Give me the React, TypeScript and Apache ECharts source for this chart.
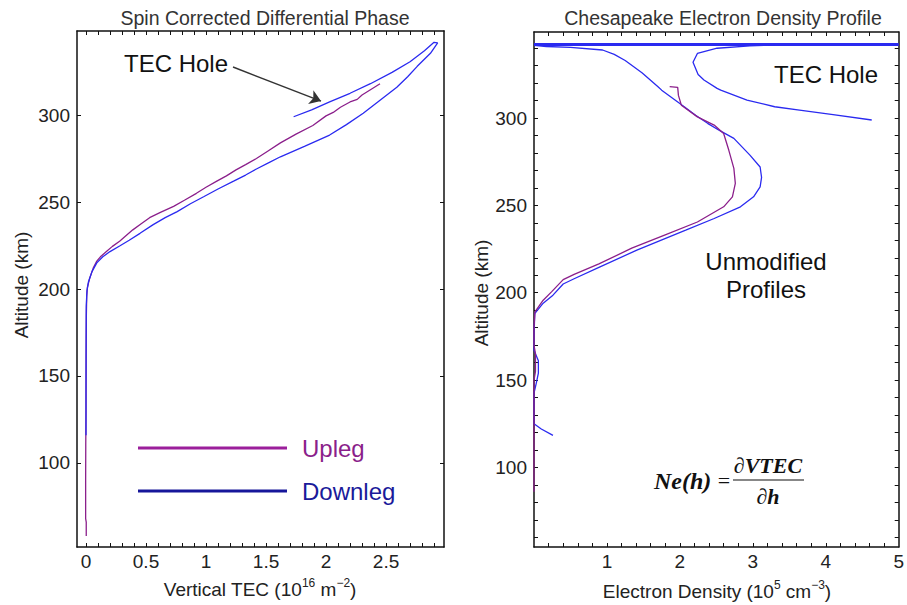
import { useEffect, useRef } from 'react';
import * as echarts from 'echarts';

// ---- axis ticks and labels ----
const tecLabels = [0, 0.5, 1, 1.5, 2, 2.5];
const tecTicks = [0, 0.1, 0.2, 0.3, 0.4, 0.5, 0.6, 0.7, 0.8, 0.9, 1, 1.1, 1.2, 1.3, 1.4, 1.5, 1.6, 1.7, 1.8, 1.9, 2, 2.1, 2.2, 2.3, 2.4, 2.5, 2.6, 2.7, 2.8, 2.9];
const altLabels = [100, 150, 200, 250, 300];
const altTicksCoarse = [100, 150, 200, 250, 300];
const altTicksFine = [60, 70, 80, 90, 100, 110, 120, 130, 140, 150, 160, 170, 180, 190, 200, 210, 220, 230, 240, 250, 260, 270, 280, 290, 300, 310, 320, 330, 340];
const densityLabels = [1, 2, 3, 4, 5];
const densityTicks = [0.2, 0.4, 0.6, 0.8, 1, 1.2, 1.4, 1.6, 1.8, 2, 2.2, 2.4, 2.6, 2.8, 3, 3.2, 3.4, 3.6, 3.8, 4, 4.2, 4.4, 4.6, 4.8];

// ---- vertical TEC vs altitude: [TEC (1e16 m^-2), altitude km] ----
const uplegTec = [
  [0.002, 58], [0.002, 66], [-0.003, 68], [-0.003, 90], [-0.002, 110], [0, 130], [0.001, 160],
  [0.003, 185], [0.006, 196], [0.012, 201], [0.03, 206], [0.06, 212], [0.09, 216], [0.12, 218.5],
  [0.17, 221.5], [0.22, 224.5], [0.28, 227.5], [0.33, 230.5], [0.39, 234], [0.46, 237.5],
  [0.53, 241], [0.62, 244], [0.73, 247.5], [0.82, 251], [0.92, 255], [1.0, 258.5], [1.09, 262],
  [1.17, 265], [1.25, 268.5], [1.33, 271.5], [1.42, 275], [1.52, 279.5], [1.62, 284], [1.75, 289],
  [1.89, 294], [2.0, 299.5], [2.06, 301.5], [2.12, 304.5], [2.2, 307.5], [2.26, 309], [2.3, 311.5],
  [2.38, 315], [2.45, 318],
];
const downlegTec = [
  [0.0, 116], [0.0, 140], [0.001, 170], [0.002, 190], [0.008, 199], [0.02, 204], [0.05, 210],
  [0.09, 215], [0.14, 218.5], [0.2, 221.5], [0.28, 224.7], [0.36, 228], [0.45, 232], [0.56, 237],
  [0.66, 241], [0.76, 244.5], [0.87, 249], [0.98, 253], [1.1, 257.5], [1.23, 262], [1.33, 265.5],
  [1.42, 269], [1.52, 272.5], [1.62, 276], [1.82, 282], [2.03, 288.5], [2.17, 294.5], [2.31, 301],
  [2.45, 308.5], [2.59, 316], [2.68, 322], [2.76, 328], [2.87, 335.5], [2.93, 341.5], [2.9, 341.8],
  [2.82, 337], [2.7, 330.6], [2.55, 324.5], [2.37, 318], [2.2, 312.5], [2.03, 307.6], [1.88, 303],
  [1.73, 299],
];

// ---- electron density vs altitude: [Ne (1e5 cm^-3), altitude km] ----
const uplegDensity = [
  [1.86, 318], [1.97, 317.6], [1.98, 313], [2.02, 307.4], [2.24, 300.7], [2.47, 296], [2.6, 291.2],
  [2.67, 281.7], [2.74, 271.2], [2.76, 262.6], [2.72, 254.9], [2.6, 249.2], [2.24, 240.5],
  [1.79, 233], [1.34, 225.5], [0.89, 216.5], [0.55, 210.5], [0.4, 207.5], [0.24, 200.5], [0.126, 195.7],
  [0.013, 189], [0, 180], [0, 170], [0.02, 165], [0.02, 155], [0, 150], [0, 100], [0, 86],
];
const downlegDensity = [
  [0, 341.7], [0.17, 341], [0.5, 340.5], [0.94, 339], [1.1, 336.5], [1.25, 333], [1.48, 326],
  [1.7, 318], [1.75, 316], [2.06, 306.5], [2.22, 301.5], [2.38, 297], [2.56, 292.5], [2.74, 288.4],
  [2.96, 278.8], [3.1, 272], [3.12, 266], [3.1, 260.6], [3.01, 254.9], [2.83, 249.2], [2.47, 242.5],
  [2.08, 235.8], [1.41, 224.4], [0.89, 214.5], [0.55, 208], [0.4, 205], [0.26, 198.6], [0.126, 194], [0.01, 188],
  [0, 175], [0, 167], [0.06, 161], [0.06, 154], [0.03, 148], [0, 142.5], [0, 125], [0.1, 122],
  [0.26, 118.3],
];
const tecHoleDensity = [
  [3.3, 341.9], [2.96, 341.3], [2.51, 340], [2.24, 337], [2.18, 332], [2.25, 325], [2.33, 321.8],
  [2.51, 317], [2.56, 316], [2.92, 310.3], [3.3, 306.5], [3.64, 304.6], [4.1, 302], [4.63, 298.9],
];
const densityCap = [[0, 342.2], [5, 342.2]];

// TEC hole pointer: from tail to head, in [TEC, altitude]
const holeArrow = [[1.225, 327.6], [1.958, 308]];

const PURPLE = '#8b1f8b';
const BLUE = '#2a2af0';
const NAVY = '#1a1a9a';
const SANS = '"Liberation Sans", Arial, sans-serif';
const SERIF = '"Liberation Serif", "Times New Roman", serif';

function frameAxis(
  position: 'bottom' | 'top' | 'left' | 'right',
  gridIndex: number,
  min: number,
  max: number,
  ticks: number[],
  labels: number[] | null,
) {
  return {
    type: 'value',
    gridIndex,
    position,
    min,
    max,
    axisLine: { show: true, onZero: false, lineStyle: { color: '#111', width: 1.5 } },
    axisTick: { show: true, inside: true, length: 4, customValues: ticks, lineStyle: { color: '#111', width: 1 } },
    axisLabel: labels
      ? { show: true, customValues: labels, color: '#222', fontSize: 19, fontFamily: SANS, margin: position === 'bottom' ? 5 : 7 }
      : { show: false },
    splitLine: { show: false },
  };
}

function lineSeries(name: string, data: number[][], color: string, axis: number, width = 1.3, extra: any = {}) {
  return {
    type: 'line',
    name,
    data,
    xAxisIndex: axis,
    yAxisIndex: axis,
    showSymbol: false,
    symbol: 'none',
    lineStyle: { color, width },
    itemStyle: { color },
    silent: true,
    ...extra,
  };
}

function label(text: string, x: number, y: number, opts: any = {}) {
  return {
    type: 'text',
    x,
    y,
    rotation: opts.rotation ?? 0,
    style: {
      text,
      fill: opts.color ?? '#111',
      font: opts.font ?? `24px ${SANS}`,
      align: opts.align ?? 'center',
      verticalAlign: 'middle',
      rich: opts.rich,
    },
  };
}

export default function App() {
  const ref = useRef<HTMLDivElement>(null);

  useEffect(() => {
    if (!ref.current) return;
    const chart = echarts.init(ref.current, null, { renderer: 'svg' });

    const supRich = {
      a: { fontSize: 19, fontFamily: SANS, fill: '#222', lineHeight: 24 },
      s: { fontSize: 12, fontFamily: SANS, fill: '#222', verticalAlign: 'top', lineHeight: 24 },
    };

    chart.setOption({
      animation: false,
      backgroundColor: '#ffffff',
      title: [
        {
          text: 'Spin Corrected Differential Phase',
          left: 260, top: 3, textAlign: 'center',
          textStyle: { fontSize: 19.5, fontWeight: 'normal', color: '#333', fontFamily: SANS },
        },
        {
          text: 'Chesapeake Electron Density Profile',
          left: 718, top: 3, textAlign: 'center',
          textStyle: { fontSize: 19.5, fontWeight: 'normal', color: '#333', fontFamily: SANS },
        },
      ],
      grid: [
        { left: 77, top: 31, width: 367, height: 516, containLabel: false },
        { left: 534, top: 32, width: 369, height: 515, containLabel: false },
      ],
      xAxis: [
        frameAxis('bottom', 0, -0.075, 2.983, tecTicks, tecLabels),
        frameAxis('top', 0, -0.075, 2.983, tecTicks, null),
        frameAxis('bottom', 1, 0, 5, densityTicks, densityLabels),
        frameAxis('top', 1, 0, 5, densityTicks, null),
      ],
      yAxis: [
        frameAxis('left', 0, 51.7, 348.3, altTicksCoarse, altLabels),
        frameAxis('right', 0, 51.7, 348.3, altTicksCoarse, null),
        frameAxis('left', 1, 54.4, 349.3, altTicksFine, altLabels),
        frameAxis('right', 1, 54.4, 349.3, altTicksFine, null),
      ],
      series: [
        lineSeries('Upleg', uplegTec, PURPLE, 0),
        lineSeries('Downleg', downlegTec, BLUE, 0, 1.3, {
          markLine: {
            silent: true,
            symbol: ['none', 'arrow'],
            symbolSize: 11,
            label: { show: false },
            lineStyle: { color: '#333', type: 'solid', width: 1.4 },
            data: [[{ coord: holeArrow[0] }, { coord: holeArrow[1] }]],
          },
        }),
        lineSeries('Downleg cap', densityCap, BLUE, 2, 3),
        lineSeries('Downleg profile', downlegDensity, BLUE, 2),
        lineSeries('TEC hole', tecHoleDensity, BLUE, 2),
        lineSeries('Upleg profile', uplegDensity, PURPLE, 2),
      ],
      graphic: [
        // left panel annotations
        label('TEC Hole', 124, 63, { align: 'left' }),
        { type: 'line', shape: { x1: 138, y1: 448, x2: 287, y2: 448 }, style: { stroke: '#9b1f9b', lineWidth: 3 } },
        { type: 'line', shape: { x1: 138, y1: 491, x2: 287, y2: 491 }, style: { stroke: '#16169a', lineWidth: 3 } },
        label('Upleg', 302, 448, { align: 'left', color: PURPLE }),
        label('Downleg', 302, 491, { align: 'left', color: NAVY }),
        // right panel annotations
        label('TEC Hole', 826, 74),
        label('Unmodified', 766, 261),
        label('Profiles', 766, 289),
        label('Ne(h)', 654, 481, { align: 'left', font: `italic bold 24px ${SERIF}` }),
        label('=', 724, 480, { font: `22px ${SERIF}` }),
        label('\u2202VTEC', 768, 465, { font: `italic bold 22px ${SERIF}` }),
        { type: 'line', shape: { x1: 733, y1: 480, x2: 804, y2: 480 }, style: { stroke: '#111', lineWidth: 1.2 } },
        label('\u2202h', 768, 496, { font: `italic bold 22px ${SERIF}` }),
        // axis names
        label('{a|Vertical TEC (10}{s|16}{a| m}{s|\u22122}{a|)}', 260, 589, { rich: supRich, font: `19px ${SANS}` }),
        label('{a|Electron Density (10}{s|5}{a| cm}{s|\u22123}{a|)}', 717, 591, { rich: supRich, font: `19px ${SANS}` }),
        label('Altitude (km)', 21, 285, { rotation: Math.PI / 2, font: `19px ${SANS}`, color: '#222' }),
        label('Altitude (km)', 481, 293, { rotation: Math.PI / 2, font: `19px ${SANS}`, color: '#222' }),
      ],
    });

    return () => chart.dispose();
  }, []);

  return (
    <div
      ref={ref}
      style={{ position: 'fixed', left: 0, top: 0, width: 907, height: 605, background: '#fff' }}
    />
  );
}
